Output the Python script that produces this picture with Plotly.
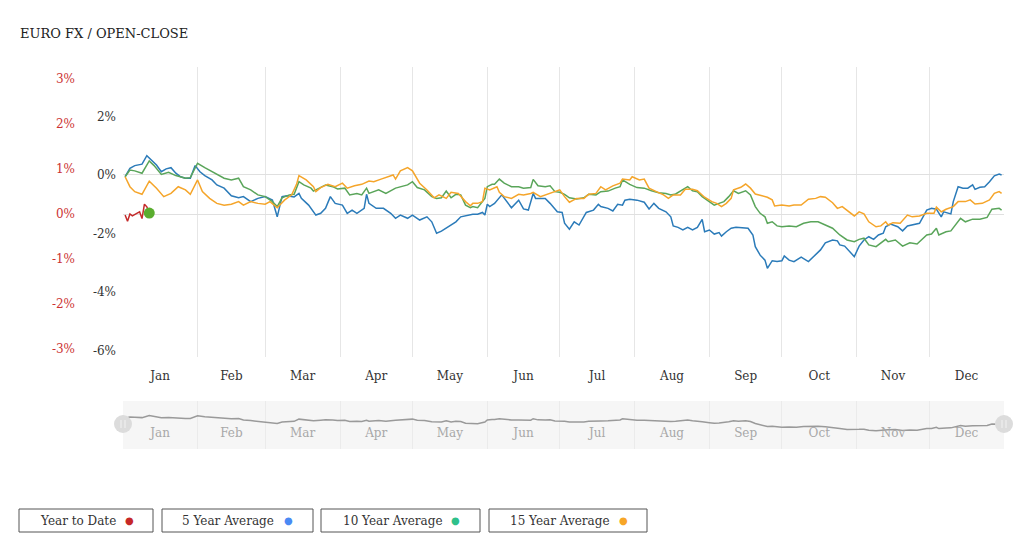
import pandas as pd
import plotly.graph_objects as go

# ---------------- data (day offset from Jan 1, value in %) ----------------
YEAR_START = "2021-01-01"

ytd_days = [1, 2, 3, 4, 6, 7, 8, 9, 10, 11]
ytd_vals = [-0.02, -0.16, 0.00, -0.04, 0.02, 0.05, -0.10, 0.22, 0.16, 0.02]

blue_days = [1, 3, 5, 8, 10, 12, 14, 16, 18, 20, 22, 24, 26, 28, 30, 32, 34, 37, 39, 42, 45, 48, 50, 53, 56, 59,
             62, 64, 66, 68, 71, 73, 74, 77, 80, 82, 84, 86, 88, 91, 93, 95, 97, 100, 101, 102, 105, 108, 111, 113,
             115, 118, 120, 123, 126, 128, 130, 132, 135, 138, 140, 143, 145, 147, 149, 150, 151, 152, 154, 157,
             159, 161, 164, 166, 168, 170, 171, 175, 177, 180, 182, 183, 185, 187, 189, 192, 195, 197, 198, 201,
             203, 205, 207, 208, 210, 213, 216, 218, 220, 222, 225, 227, 228, 230, 232, 234, 236, 238, 240, 241,
             243, 245, 247, 248, 250, 252, 254, 257, 259, 261, 262, 264, 266, 267, 269, 271, 273, 274, 276, 278,
             281, 284, 287, 289, 291, 294, 296, 297, 299, 301, 303, 305, 307, 309, 311, 313, 315, 316, 318, 321,
             323, 325, 327, 330, 333, 335, 337, 339, 340, 343, 344, 346, 348, 350, 352, 353, 355, 357, 359, 361,
             363, 364]
blue_vals = [-0.06, 0.23, 0.32, 0.37, 0.66, 0.51, 0.34, 0.11, 0.21, 0.25, 0.06, -0.06, -0.11, -0.11, 0.32, 0.11,
             -0.02, -0.17, -0.34, -0.45, -0.71, -0.78, -0.74, -0.91, -0.80, -0.74, -0.86, -1.43, -0.74, -0.71,
             -0.75, -0.63, -0.80, -1.03, -1.37, -1.31, -1.14, -0.74, -0.97, -1.03, -1.31, -1.20, -1.31, -1.14,
             -0.66, -0.97, -1.14, -1.14, -1.31, -1.48, -1.37, -1.48, -1.37, -1.54, -1.43, -1.60, -1.99, -1.92,
             -1.77, -1.60, -1.43, -1.39, -1.34, -1.34, -1.28, -1.37, -1.00, -1.08, -0.97, -0.68, -0.89, -1.12,
             -0.86, -1.16, -1.20, -0.63, -0.80, -0.80, -0.97, -1.26, -1.28, -1.65, -1.85, -1.60, -1.71, -1.28,
             -1.20, -1.00, -1.08, -1.14, -1.23, -1.00, -1.03, -0.86, -0.83, -0.86, -0.93, -1.16, -0.97, -1.14,
             -1.26, -1.43, -1.74, -1.79, -1.88, -1.79, -1.88, -1.79, -1.52, -1.94, -1.88, -2.02, -1.97, -2.09,
             -1.94, -1.82, -1.79, -1.82, -1.82, -2.05, -2.45, -2.74, -2.91, -3.19, -2.93, -2.96, -2.93, -2.77,
             -2.91, -2.96, -2.81, -2.96, -2.74, -2.56, -2.32, -2.22, -2.25, -2.39, -2.43, -2.62, -2.79, -2.43,
             -2.22, -2.11, -2.20, -2.05, -1.99, -1.77, -1.68, -1.77, -1.91, -1.74, -1.71, -1.65, -1.20, -1.14,
             -1.17, -1.43, -1.26, -1.33, -0.91, -0.40, -0.45, -0.45, -0.34, -0.49, -0.42, -0.40, -0.23, -0.03,
             0.03, 0.00]

green_days = [1, 3, 5, 8, 11, 13, 16, 19, 22, 26, 28, 31, 34, 38, 42, 45, 48, 50, 53, 56, 59, 62, 64, 66, 69, 71,
              73, 75, 78, 79, 82, 84, 87, 89, 92, 94, 97, 99, 101, 102, 106, 109, 113, 115, 118, 120, 122, 125, 128,
              130, 132, 134, 136, 138, 140, 142, 144, 145, 147, 150, 151, 153, 154, 156, 158, 161, 164, 166, 169,
              170, 172, 175, 177, 179, 181, 183, 185, 188, 191, 193, 196, 198, 201, 204, 206, 207, 210, 213, 216,
              219, 222, 225, 227, 229, 231, 234, 236, 238, 240, 243, 245, 247, 249, 251, 253, 255, 258, 260, 262,
              264, 266, 267, 269, 271, 273, 276, 279, 282, 285, 288, 291, 294, 297, 300, 303, 305, 307, 309, 312,
              314, 316, 317, 320, 323, 326, 329, 333, 335, 337, 338, 341, 343, 347, 349, 352, 355, 358, 360, 363,
              364]
green_vals = [-0.06, 0.17, 0.14, 0.06, 0.48, 0.32, 0.02, 0.09, -0.02, -0.11, -0.09, 0.40, 0.25, 0.06, -0.11,
              -0.17, -0.11, -0.40, -0.51, -0.68, -0.74, -0.91, -1.08, -0.78, -0.68, -0.66, -0.23, -0.34, -0.45,
              -0.55, -0.43, -0.34, -0.40, -0.48, -0.45, -0.68, -0.63, -0.68, -0.45, -0.63, -0.51, -0.63, -0.45,
              -0.40, -0.34, -0.23, -0.43, -0.51, -0.74, -0.80, -0.78, -0.55, -0.78, -0.66, -0.68, -1.03, -1.12,
              -1.08, -1.12, -0.80, -0.40, -0.32, -0.32, -0.14, -0.28, -0.40, -0.40, -0.45, -0.43, -0.15, -0.37,
              -0.40, -0.37, -0.57, -0.59, -0.66, -0.78, -0.82, -0.78, -0.66, -0.68, -0.57, -0.55, -0.45, -0.40,
              -0.17, -0.32, -0.43, -0.45, -0.54, -0.61, -0.63, -0.68, -0.65, -0.54, -0.40, -0.54, -0.57, -0.74,
              -0.91, -1.03, -0.97, -0.91, -0.74, -0.54, -0.63, -0.54, -0.68, -1.08, -1.31, -1.43, -1.65, -1.60,
              -1.74, -1.77, -1.74, -1.77, -1.65, -1.60, -1.60, -1.71, -1.82, -2.05, -2.22, -2.28, -2.20, -2.16,
              -2.39, -2.45, -2.34, -2.20, -2.28, -2.22, -2.43, -2.32, -2.36, -2.05, -2.02, -1.82, -2.05, -1.94,
              -1.91, -1.48, -1.60, -1.51, -1.51, -1.45, -1.17, -1.14, -1.20]

orange_days = [1, 3, 5, 8, 11, 14, 17, 20, 23, 26, 28, 31, 33, 36, 39, 42, 45, 48, 50, 53, 56, 59, 61, 64, 67, 70,
               72, 73, 76, 79, 80, 82, 85, 88, 91, 93, 96, 99, 102, 104, 107, 110, 112, 113, 115, 118, 120, 123, 126,
               129, 131, 134, 136, 139, 142, 144, 145, 147, 149, 150, 152, 155, 156, 158, 161, 164, 166, 169, 170,
               173, 176, 178, 181, 183, 185, 188, 191, 193, 196, 198, 200, 203, 206, 207, 210, 211, 214, 216, 218,
               221, 224, 226, 228, 231, 233, 236, 238, 241, 244, 246, 248, 250, 252, 253, 256, 258, 260, 262, 265,
               267, 269, 270, 273, 276, 278, 281, 284, 287, 289, 291, 294, 296, 298, 300, 303, 305, 307, 309, 312,
               314, 316, 317, 319, 322, 325, 327, 330, 333, 336, 337, 339, 341, 344, 346, 349, 351, 353, 356, 359,
               361, 363, 364]
orange_vals = [-0.06, -0.40, -0.57, -0.66, -0.21, -0.45, -0.74, -0.63, -0.40, -0.51, -0.66, -0.17, -0.57, -0.80,
               -0.97, -1.03, -1.00, -0.91, -1.03, -0.91, -0.97, -1.00, -0.91, -1.12, -0.86, -0.68, -0.32, -0.02,
               -0.17, -0.40, -0.57, -0.43, -0.32, -0.40, -0.28, -0.45, -0.37, -0.32, -0.21, -0.23, -0.14, -0.06,
               0.00, -0.14, 0.14, 0.25, 0.14, -0.28, -0.51, -0.78, -0.68, -0.80, -0.59, -0.63, -0.91, -1.05, -0.97,
               -0.97, -0.91, -0.45, -0.51, -0.40, -0.59, -0.74, -0.80, -0.66, -0.68, -0.63, -0.59, -0.74, -0.66,
               -0.59, -0.51, -0.74, -0.93, -0.80, -0.80, -0.66, -0.63, -0.40, -0.51, -0.37, -0.28, -0.14, -0.17,
               -0.06, -0.17, -0.14, -0.45, -0.57, -0.68, -0.80, -0.68, -0.68, -0.49, -0.49, -0.54, -0.76, -0.91,
               -0.97, -1.08, -0.97, -0.80, -0.51, -0.42, -0.31, -0.45, -0.65, -0.72, -0.76, -0.85, -1.06, -1.03,
               -1.06, -1.03, -1.03, -0.83, -0.80, -0.74, -0.76, -0.95, -1.14, -1.08, -1.20, -1.40, -1.26, -1.33,
               -1.60, -1.77, -1.74, -1.60, -1.71, -1.63, -1.65, -1.37, -1.43, -1.40, -1.31, -1.31, -1.10, -1.26,
               -1.17, -1.08, -0.91, -0.91, -0.85, -0.99, -0.97, -0.85, -0.63, -0.57, -0.63]

ytd_ticks = [-3, -2, -1, 0, 1, 2, 3]
ytd_tick_labels = ["-3%", "-2%", "-1%", "0%", "1%", "2%", "3%"]
avg_ticks = [-6, -4, -2, 0, 2]
avg_tick_labels = ["-6%", "-4%", "-2%", "0%", "2%"]

legend_labels = ["Year to Date", "5 Year Average", "10 Year Average", "15 Year Average"]
legend_dot_colors = ["#c62828", "#4a8af4", "#2ec08a", "#f7a627"]

title_text = "EURO FX / OPEN-CLOSE"

# ---------------- helpers ----------------
base = pd.Timestamp(YEAR_START)


def to_dates(days):
    return [base + pd.Timedelta(days=int(d)) for d in days]


OFF = 8                       # page body margin
W, H = 1024 - OFF, 552 - OFF  # figure size
ML, MR, MT, MB = 52, 20, 59, 103
PW = W - ML - MR
PH = H - MT - MB


def px(x):   # screen x -> paper fraction
    return (x - OFF - ML) / PW


def py(y):   # screen y -> paper fraction
    return (H - MB - (y - OFF)) / PH


FONT = "DejaVu Serif"
BLUE, GREEN, ORANGE, RED = "#2b7bb9", "#5aa55a", "#f5a52a", "#c42a2a"

fig = go.Figure()

fig.add_trace(go.Scatter(x=to_dates(blue_days), y=blue_vals, mode="lines",
                         line=dict(color=BLUE, width=1.5), xaxis="x", yaxis="y", hoverinfo="skip"))
fig.add_trace(go.Scatter(x=to_dates(green_days), y=green_vals, mode="lines",
                         line=dict(color=GREEN, width=1.5), xaxis="x", yaxis="y", hoverinfo="skip"))
fig.add_trace(go.Scatter(x=to_dates(orange_days), y=orange_vals, mode="lines",
                         line=dict(color=ORANGE, width=1.5), xaxis="x", yaxis="y", hoverinfo="skip"))
fig.add_trace(go.Scatter(x=to_dates(ytd_days), y=ytd_vals, mode="lines",
                         line=dict(color=RED, width=1.5), xaxis="x", yaxis="y2", hoverinfo="skip"))
fig.add_trace(go.Scatter(x=to_dates(ytd_days[-1:]), y=ytd_vals[-1:], mode="markers",
                         marker=dict(color="#5aad2e", size=11), xaxis="x", yaxis="y2", hoverinfo="skip"))
# navigator series
fig.add_trace(go.Scatter(x=to_dates(green_days), y=green_vals, mode="lines",
                         line=dict(color="#9a9a9a", width=1.5), xaxis="x2", yaxis="y3", hoverinfo="skip"))

x_range = [base + pd.Timedelta(hours=3), base + pd.DateOffset(years=1)]
main_bottom = py(357)

fig.update_layout(
    width=W, height=H,
    margin=dict(l=ML, r=MR, t=MT, b=MB),
    paper_bgcolor="white", plot_bgcolor="white",
    showlegend=False,
    font=dict(family=FONT, size=12, color="#333333"),
    title=dict(text=title_text, xref="container", yref="container", x=(20 - OFF) / W, y=1 - (33 - OFF) / H,
               xanchor="left", yanchor="middle", font=dict(family=FONT, size=13, color="#222222")),
    xaxis=dict(type="date", domain=[px(123), 1], range=x_range, anchor="y",
               dtick="M1", tick0=YEAR_START, tickformat="%b", ticklabelmode="period",
               showgrid=True, gridcolor="#e6e6e6", gridwidth=1, zeroline=False, showline=False,
               ticks="", ticklabelstandoff=10, tickfont=dict(family=FONT, size=12, color="#333333")),
    yaxis=dict(domain=[main_bottom, 1], range=[-6.22, 3.69], tickvals=avg_ticks, ticktext=avg_tick_labels,
               showgrid=False, zeroline=True, zerolinecolor="#e0e0e0", zerolinewidth=1,
               showline=False, ticks="", ticklabelstandoff=6, anchor="x",
               tickfont=dict(family=FONT, size=12, color="#333333")),
    yaxis2=dict(overlaying="y", range=[-3.18, 3.27], tickvals=ytd_ticks, ticktext=ytd_tick_labels,
                anchor="free", position=px(75), side="left",
                showgrid=False, zeroline=True, zerolinecolor="#e0e0e0", zerolinewidth=1,
                showline=False, ticks="", tickfont=dict(family=FONT, size=12, color="#cc3333")),
    xaxis2=dict(type="date", domain=[px(123), 1], range=x_range, anchor="free", position=py(424),
                dtick="M1", tick0=YEAR_START, tickformat="%b", ticklabelmode="period",
                showgrid=True, gridcolor="#ebebeb", gridwidth=1, zeroline=False, showline=False, ticks="",
                tickfont=dict(family=FONT, size=12, color="#a8a8a8")),
    yaxis3=dict(domain=[0, py(401)], range=[-5.98, 3.26], anchor="x2", visible=False, showgrid=False,
                zeroline=False),
)

shapes = []
# navigator background
shapes.append(dict(type="rect", xref="x2 domain", yref="y3 domain", x0=0, x1=1, y0=0, y1=1,
                   fillcolor="#f6f6f6", line=dict(width=0), layer="below"))
# navigator handles
hy = (449 - 424) / 48
for hx in (0, 1):
    shapes.append(dict(type="circle", xref="x2 domain", yref="y3 domain", xsizemode="pixel",
                       ysizemode="pixel", xanchor=hx, yanchor=hy, x0=-9, x1=9, y0=-9, y1=9,
                       fillcolor="#dcdcdc", line=dict(width=0), layer="above"))
    for off in (-2, 2):
        shapes.append(dict(type="line", xref="x2 domain", yref="y3 domain", xsizemode="pixel",
                           ysizemode="pixel", xanchor=hx, yanchor=hy, x0=off, x1=off, y0=-4, y1=4,
                           line=dict(color="#f2f2f2", width=1), layer="above"))

# legend boxes
boxes = [(19, 153), (162, 313), (321, 480), (489, 647)]
text_x = [38, 180, 341, 508]
dot_x = [129, 288, 455, 623]
annotations = []
for (x0, x1), tx, dx, lab, col in zip(boxes, text_x, dot_x, legend_labels, legend_dot_colors):
    shapes.append(dict(type="rect", xref="paper", yref="paper", x0=px(x0), x1=px(x1), y0=py(532), y1=py(509),
                       line=dict(color="#555555", width=1), fillcolor="white"))
    annotations.append(dict(xref="paper", yref="paper", x=px(tx), y=py(520.5), text=lab, showarrow=False,
                            xanchor="left", yanchor="middle", font=dict(family=FONT, size=12, color="#333333")))
    annotations.append(dict(xref="paper", yref="paper", x=px(dx), y=py(520.5), text="●", showarrow=False,
                            xanchor="center", yanchor="middle", font=dict(family=FONT, size=10, color=col)))

fig.update_layout(shapes=shapes, annotations=annotations)

fig.write_html("out.html")
